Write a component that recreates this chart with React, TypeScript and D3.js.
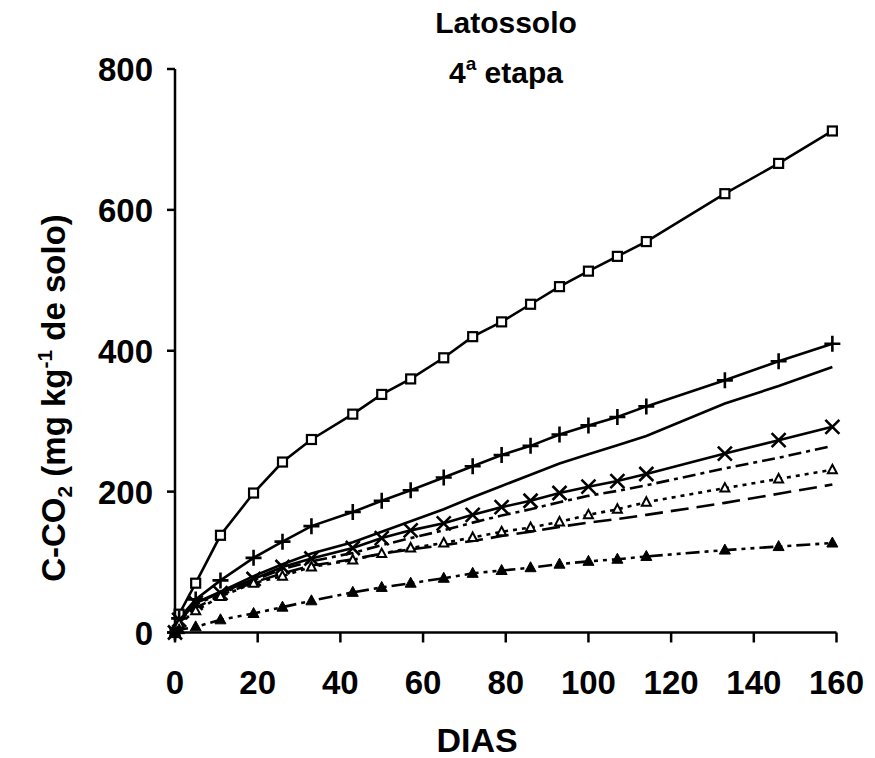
import React from "react";
import * as d3 from "d3";

const days = [0, 1, 5, 11, 19, 26, 33, 43, 50, 57, 65, 72, 79, 86, 93, 100, 107, 114, 133, 146, 159];
const squareSeries = [0, 26, 70, 138, 198, 242, 274, 310, 338, 360, 390, 420, 441, 466, 491, 513, 534, 555, 623, 666, 712];
const plusSeries = [0, 20, 47, 74, 106, 129, 151, 171, 187, 202, 220, 236, 252, 265, 281, 294, 306, 321, 358, 385, 410];
const solidSeries = [0, 16, 42, 58, 80, 97, 112, 128, 143, 158, 175, 192, 208, 224, 240, 253, 266, 279, 325, 350, 377];
const crossSeries = [0, 18, 42, 56, 76, 93, 105, 120, 134, 145, 155, 167, 178, 187, 198, 207, 215, 225, 254, 273, 292];
const dashDotSeries = [0, 15, 40, 55, 74, 90, 101, 113, 124, 134, 145, 156, 166, 175, 185, 194, 201, 209, 233, 248, 265];
const openTriSeries = [0, 12, 31, 51, 70, 80, 93, 103, 112, 120, 127, 135, 143, 149, 157, 167, 175, 185, 205, 218, 231];
const longDashSeries = [0, 14, 35, 53, 71, 84, 95, 104, 112, 118, 124, 130, 137, 143, 150, 156, 161, 167, 184, 197, 210];
const filledTriSeries = [0, 4, 8, 18, 27, 36, 45, 57, 64, 70, 77, 84, 88, 92, 97, 101, 104, 108, 117, 122, 127];

const xTicks = [0, 20, 40, 60, 80, 100, 120, 140, 160];
const yTicks = [0, 200, 400, 600, 800];

type Marker = "square" | "plus" | "cross" | "openTri" | "filledTri" | "none";
const seriesList: { name: string; values: number[]; dash: string; marker: Marker }[] = [
  { name: "square", values: squareSeries, dash: "", marker: "square" },
  { name: "plus", values: plusSeries, dash: "", marker: "plus" },
  { name: "solid", values: solidSeries, dash: "", marker: "none" },
  { name: "cross", values: crossSeries, dash: "", marker: "cross" },
  { name: "dashDot", values: dashDotSeries, dash: "13,5,4,5", marker: "none" },
  { name: "openTri", values: openTriSeries, dash: "4,5", marker: "openTri" },
  { name: "longDash", values: longDashSeries, dash: "18,8", marker: "none" },
  { name: "filledTri", values: filledTriSeries, dash: "14,5,4,5,4,5", marker: "filledTri" },
];

const FONT = "'Liberation Sans', Arial, Helvetica, sans-serif";

function MarkerShape({ type, cx, cy }: { type: Marker; cx: number; cy: number }) {
  switch (type) {
    case "square":
      return <rect x={cx - 4.5} y={cy - 4.5} width={9} height={9} fill="#fff" stroke="#000" strokeWidth={2.2} />;
    case "plus":
      return <path d={`M${cx - 8},${cy}H${cx + 8}M${cx},${cy - 8}V${cy + 8}`} stroke="#000" strokeWidth={2.6} fill="none" />;
    case "cross":
      return <path d={`M${cx - 7},${cy - 7}L${cx + 7},${cy + 7}M${cx - 7},${cy + 7}L${cx + 7},${cy - 7}`} stroke="#000" strokeWidth={2.6} fill="none" />;
    case "openTri":
      return <path d={`M${cx},${cy - 5}L${cx + 4.5},${cy + 3.5}L${cx - 4.5},${cy + 3.5}Z`} fill="#fff" stroke="#000" strokeWidth={2} />;
    case "filledTri":
      return <path d={`M${cx},${cy - 6}L${cx + 5.5},${cy + 4}L${cx - 5.5},${cy + 4}Z`} fill="#000" stroke="#000" strokeWidth={1} />;
    default:
      return null;
  }
}

export default function App() {
  const W = 875;
  const H = 758;
  const x = d3.scaleLinear().domain([0, 160]).range([175, 836.5]);
  const y = d3.scaleLinear().domain([0, 800]).range([632.5, 69]);
  const line = d3
    .line<[number, number]>()
    .x((d) => x(d[0]))
    .y((d) => y(d[1]));

  return (
    <svg
      width={W}
      height={H}
      viewBox={`0 0 ${W} ${H}`}
      style={{ position: "absolute", left: 0, top: 0, background: "#fff" }}
      fontFamily={FONT}
      fontWeight="bold"
    >
      <rect x={0} y={0} width={W} height={H} fill="#fff" />
      {/* Title */}
      <text x={506} y={33} textAnchor="middle" fontSize={30}>
        Latossolo
      </text>
      <text x={506} y={83} textAnchor="middle" fontSize={30}>
        4<tspan fontSize={19} dy={-13}>a</tspan>
        <tspan dy={13}> etapa</tspan>
      </text>

      {/* Series lines */}
      {seriesList.map((s) => (
        <path
          key={s.name}
          d={line(days.map((d, i) => [d, s.values[i]] as [number, number])) || ""}
          fill="none"
          stroke="#000"
          strokeWidth={2.6}
          strokeDasharray={s.dash || undefined}
        />
      ))}
      {/* Markers */}
      {seriesList.map((s) =>
        s.marker === "none"
          ? null
          : days.map((d, i) => <MarkerShape key={s.name + i} type={s.marker} cx={x(d)} cy={y(s.values[i])} />)
      )}

      {/* Axes */}
      <line x1={x(0)} x2={x(0)} y1={y(800)} y2={y(0)} stroke="#000" strokeWidth={2.5} />
      <line x1={x(0)} x2={x(160)} y1={y(0)} y2={y(0)} stroke="#000" strokeWidth={2.5} />
      {yTicks.map((t) => (
        <g key={"y" + t}>
          <line x1={x(0) - 8} x2={x(0)} y1={y(t)} y2={y(t)} stroke="#000" strokeWidth={2.5} />
          <text x={153} y={y(t) + 12} textAnchor="end" fontSize={33}>
            {t}
          </text>
        </g>
      ))}
      {xTicks.map((t) => (
        <g key={"x" + t}>
          <line x1={x(t)} x2={x(t)} y1={y(0)} y2={y(0) + 10} stroke="#000" strokeWidth={2.5} />
          <text x={x(t)} y={694} textAnchor="middle" fontSize={33}>
            {t}
          </text>
        </g>
      ))}

      {/* Axis titles */}
      <text x={477} y={752} textAnchor="middle" fontSize={34}>
        DIAS
      </text>
      <text transform={`translate(65,${398}) rotate(-90)`} textAnchor="middle" fontSize={33}>
        C-CO<tspan fontSize={21} dy={7}>2</tspan>
        <tspan dy={-7}> (mg kg</tspan>
        <tspan fontSize={21} dy={-13}>-1</tspan>
        <tspan dy={13}> de solo)</tspan>
      </text>
    </svg>
  );
}
